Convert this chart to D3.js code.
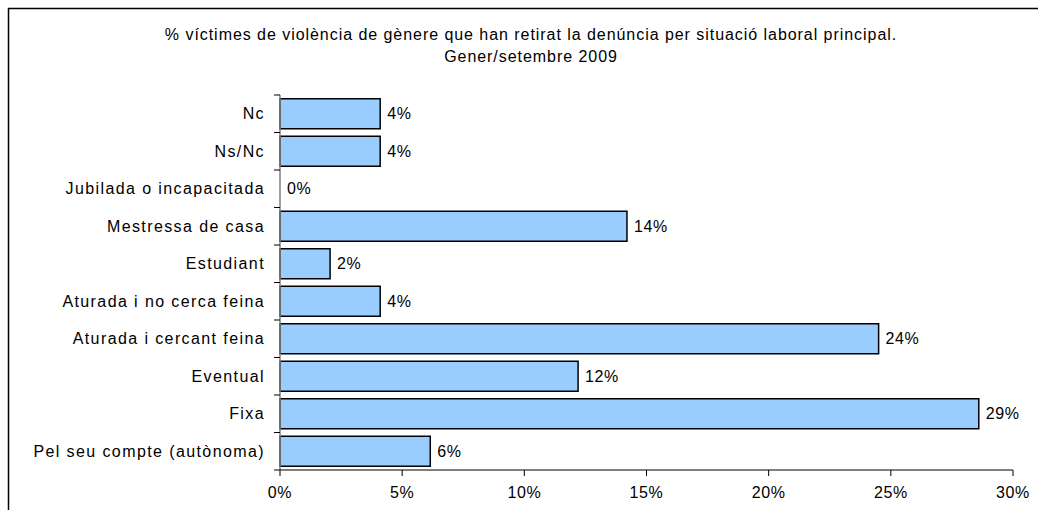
<!DOCTYPE html>
<html><head><meta charset="utf-8">
<script src="https://cdn.jsdelivr.net/npm/d3@7"></script>
<style>body{margin:0;background:#fff}svg{display:block}text{font-family:"Liberation Sans",Arial,sans-serif;fill:#000;font-size:16px}</style>
</head><body>
<script>
const categories = ["Nc","Ns/Nc","Jubilada o incapacitada","Mestressa de casa","Estudiant","Aturada i no cerca feina","Aturada i cercant feina","Eventual","Fixa","Pel seu compte (autònoma)"];
const values = [4.1,4.1,0,14.2,2.05,4.1,24.5,12.2,28.6,6.15];
const valueLabels = ["4%","4%","0%","14%","2%","4%","24%","12%","29%","6%"];
const xTicks = [0,5,10,15,20,25,30];
const titleLines = ["% víctimes de violència de gènere que han retirat la denúncia per situació laboral principal.","Gener/setembre 2009"];

const W=1038,H=510;
const svg=d3.select("body").append("svg").attr("width",W).attr("height",H);
svg.append("path").attr("d","M8.5,"+H+"V8.5H"+W).attr("fill","none").attr("stroke","#000").attr("stroke-width",1.5);

const x=d3.scaleLinear().domain([0,30]).range([280,1013]);
const y=d3.scaleBand().domain(categories).range([95,470]).paddingInner(0.2).paddingOuter(0.1);
const band=375/categories.length;

svg.selectAll(".t").data(titleLines).enter().append("text")
 .attr("x",531).attr("y",(d,i)=>40+i*22).attr("text-anchor","middle")
 .style("letter-spacing","0.95px").text(d=>d);

values.forEach((v,i)=>{
  if(v>0) svg.append("rect").attr("x",x(0)).attr("y",y(categories[i]))
   .attr("width",x(v)-x(0)).attr("height",y.bandwidth())
   .attr("fill","#99ccff").attr("stroke","#000").attr("stroke-width",1.5);
  svg.append("text").attr("x",x(v)+7).attr("y",y(categories[i])+y.bandwidth()/2+5.5)
   .style("letter-spacing","0.6px").text(valueLabels[i]);
});

const ya=svg.append("g").attr("transform","translate(280,0)");
ya.append("line").attr("y1",95).attr("y2",470).attr("stroke","#808080").attr("stroke-width",1.5);
d3.range(categories.length+1).forEach(k=>{
  ya.append("line").attr("x1",-6).attr("x2",0).attr("y1",95+k*band).attr("y2",95+k*band).attr("stroke","#000");
});
categories.forEach((c,i)=>{
  ya.append("text").attr("x",-15).attr("y",95+(i+0.5)*band+5.5)
   .attr("text-anchor","end").style("letter-spacing","1.4px").text(c);
});

const xa=svg.append("g").attr("transform","translate(0,470)");
xa.append("line").attr("x1",280).attr("x2",1013).attr("stroke","#000").attr("stroke-width",1.2);
xTicks.forEach(t=>{
  xa.append("line").attr("x1",x(t)).attr("x2",x(t)).attr("y1",0).attr("y2",6).attr("stroke","#000");
  xa.append("text").attr("x",x(t)).attr("y",28).attr("text-anchor","middle").style("letter-spacing","0.6px").text(t+"%");
});
</script>
</body></html>
